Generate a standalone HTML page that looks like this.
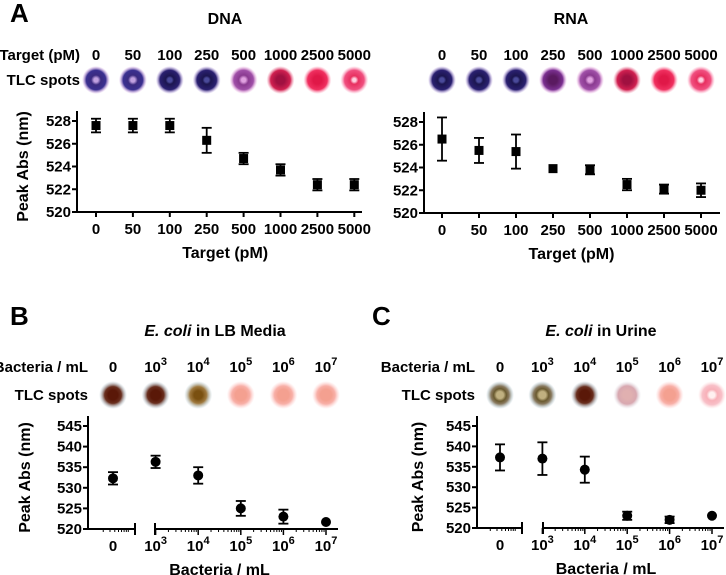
<!DOCTYPE html>
<html><head><meta charset="utf-8"><style>
body{margin:0;background:#fff}
svg{display:block;font-family:"Liberation Sans",Arial,sans-serif;font-weight:bold}
</style></head><body>
<svg id="fig" width="726" height="575" viewBox="0 0 726 575">
<defs>
<radialGradient id="gNavy"><stop offset="0.15" stop-color="#4a4a9a"/><stop offset="0.3" stop-color="#1c1650"/><stop offset="0.7" stop-color="#2a2070"/><stop offset="1" stop-color="#b090e0" stop-opacity="0"/></radialGradient>
<radialGradient id="gNavyL"><stop offset="0.15" stop-color="#c0a0e0"/><stop offset="0.35" stop-color="#3a2a80"/><stop offset="0.7" stop-color="#3a3090"/><stop offset="1" stop-color="#d090e0" stop-opacity="0"/></radialGradient>
<radialGradient id="gPurple"><stop offset="0.3" stop-color="#5a1a60"/><stop offset="0.7" stop-color="#7a3090"/><stop offset="1" stop-color="#e090e0" stop-opacity="0"/></radialGradient>
<radialGradient id="gMauve"><stop offset="0.15" stop-color="#e0a0e0"/><stop offset="0.35" stop-color="#8a3a90"/><stop offset="0.7" stop-color="#a050a8"/><stop offset="1" stop-color="#f0a0e0" stop-opacity="0"/></radialGradient>
<radialGradient id="gCrim"><stop offset="0.3" stop-color="#a01040"/><stop offset="0.7" stop-color="#d02050"/><stop offset="1" stop-color="#f080a0" stop-opacity="0"/></radialGradient>
<radialGradient id="gRed"><stop offset="0.3" stop-color="#e01848"/><stop offset="0.7" stop-color="#f03060"/><stop offset="1" stop-color="#ff90b0" stop-opacity="0"/></radialGradient>
<radialGradient id="gPinkW"><stop offset="0.12" stop-color="#ffd0e0"/><stop offset="0.3" stop-color="#e83060"/><stop offset="0.7" stop-color="#f05080"/><stop offset="1" stop-color="#ffa0c0" stop-opacity="0"/></radialGradient>
<radialGradient id="gBrown"><stop offset="0.35" stop-color="#5a1808"/><stop offset="0.6" stop-color="#6a3020"/><stop offset="1" stop-color="#a0c0d0" stop-opacity="0"/></radialGradient>
<radialGradient id="gOchre"><stop offset="0.3" stop-color="#7a5010"/><stop offset="0.6" stop-color="#a07a40"/><stop offset="1" stop-color="#a0c0d0" stop-opacity="0"/></radialGradient>
<radialGradient id="gOlive"><stop offset="0.25" stop-color="#c0b080"/><stop offset="0.45" stop-color="#6a5a30"/><stop offset="0.65" stop-color="#8a7a60"/><stop offset="1" stop-color="#a0c0d0" stop-opacity="0"/></radialGradient>
<radialGradient id="gSalmon"><stop offset="0.4" stop-color="#f4a090"/><stop offset="0.65" stop-color="#f8b0a8"/><stop offset="1" stop-color="#ffd0d0" stop-opacity="0"/></radialGradient>
<radialGradient id="gRose"><stop offset="0.3" stop-color="#e0b0b0"/><stop offset="0.65" stop-color="#d8a8b0"/><stop offset="1" stop-color="#e0e0e8" stop-opacity="0"/></radialGradient>
<radialGradient id="gPinkLt"><stop offset="0.2" stop-color="#fff0f0"/><stop offset="0.4" stop-color="#f8b0b8"/><stop offset="0.7" stop-color="#f8c0c8"/><stop offset="1" stop-color="#ffe0e0" stop-opacity="0"/></radialGradient>
</defs>
</svg>
<script>
// ---- data ----
const targetCats = ["0","50","100","250","500","1000","2500","5000"];
const dnaMean = [527.6,527.6,527.6,526.3,524.7,523.7,522.4,522.4];
const dnaErr  = [0.6,0.6,0.6,1.1,0.5,0.5,0.5,0.5];
const rnaMean = [526.5,525.5,525.4,523.9,523.8,522.5,522.1,522.0];
const rnaErr  = [1.9,1.1,1.5,0,0.4,0.5,0.4,0.6];
const targetTicks = [520,522,524,526,528];
const bactExp = ["", "3","4","5","6","7"];
const lbMean = [532.3,536.3,533.0,525.0,523.0,521.7];
const lbErr  = [1.5,1.5,2.0,1.8,1.7,0];
const urMean = [537.3,537.0,534.3,523.0,522.0,523.0];
const urErr  = [3.2,4.0,3.2,1.0,0.8,0];
const bactTicks = [520,525,530,535,540,545];
const dnaSpots = ["gNavyL","gNavyL","gNavy","gNavy","gMauve","gCrim","gRed","gPinkW"];
const rnaSpots = ["gNavy","gNavy","gNavy","gPurple","gMauve","gCrim","gRed","gPinkW"];
const lbSpots = ["gBrown","gBrown","gOchre","gSalmon","gSalmon","gSalmon"];
const urSpots = ["gOlive","gOlive","gBrown","gRose","gSalmon","gPinkLt"];

const NS="http://www.w3.org/2000/svg";
const svg=document.getElementById('fig');
function mk(tag,attrs,parent,text){const e=document.createElementNS(NS,tag);for(const k in attrs)e.setAttribute(k,attrs[k]);if(text!==undefined)e.textContent=text;(parent||svg).appendChild(e);return e;}

function panel(o){
  const g=mk('g',{});
  
  
  const y=v=>o.yTop+(o.yMax-v)/(o.yMax-o.yMin)*(o.yBot-o.yTop);
  const x=i=>o.x0+i*o.dx;
  const ya=mk('line',{x1:o.ax,x2:o.ax,y1:o.yTop-10,y2:o.yBot,stroke:'#000','stroke-width':2},g);
  
  
  o.segs.forEach(s=>{const l=mk('line',{x1:s[0],x2:s[1],y1:o.yBot,y2:o.yBot,stroke:'#000','stroke-width':2},g);
    
    });
  o.ticks.forEach(t=>{
    mk('line',{x1:o.ax-5,x2:o.ax,y1:y(t),y2:y(t),stroke:'#000','stroke-width':2},g);
    const tl=mk('text',{x:o.ax-6,y:y(t)+5,'text-anchor':'end','font-size':15},g,t);
    
    
  });
  if(o.log){
    mk('line',{x1:o.segs[0][1],x2:o.segs[0][1],y1:o.yBot-6,y2:o.yBot+6,stroke:'#000','stroke-width':2},g);
    mk('line',{x1:o.segs[1][0],x2:o.segs[1][0],y1:o.yBot-6,y2:o.yBot+6,stroke:'#000','stroke-width':2},g);
    for(let d=1;d<6;d++){
      mk('line',{x1:x(d),x2:x(d),y1:o.yBot,y2:o.yBot+6,stroke:'#000','stroke-width':1.5},g);
      if(d<5)for(let m=2;m<10;m++){const px=x(d)+Math.log10(m)*o.dx;mk('line',{x1:px,x2:px,y1:o.yBot,y2:o.yBot+3,stroke:'#000','stroke-width':1},g);}
    }
    for(let m=2;m<10;m++){const px=x(0)-o.dx*0.5+Math.log10(m)*o.dx*0.9;mk('line',{x1:px,x2:px,y1:o.yBot,y2:o.yBot+3,stroke:'#000','stroke-width':1},g);}
  } else {
    o.cats.forEach((c,i)=>mk('line',{x1:x(i),x2:x(i),y1:o.yBot,y2:o.yBot+5,stroke:'#000','stroke-width':2},g));
  }
  o.cats.forEach((c,i)=>{
    [o.yBot+22,o.rowY].forEach((yy,k)=>{
      const t=mk('text',{x:x(i),y:yy,'text-anchor':'middle','font-size':15},g);
      if(o.log&&c!==""){t.textContent="10";mk('tspan',{dy:-7,'font-size':11},t,c);}
      else t.textContent=o.log?"0":c;
      
      
    });
    const sp=mk('circle',{cx:x(i),cy:o.spotY,r:14,fill:'url(#'+o.spots[i]+')'},g);
    
    
  });
  o.mean.forEach((m,i)=>{
    const e=o.err[i];
    if(e>0){
      mk('line',{x1:x(i),x2:x(i),y1:y(m+e),y2:y(m-e),stroke:'#000','stroke-width':1.8},g);
      [m+e,m-e].forEach(v=>mk('line',{x1:x(i)-5,x2:x(i)+5,y1:y(v),y2:y(v),stroke:'#000','stroke-width':1.8},g));
    }
    let p;
    if(o.log)p=mk('circle',{cx:x(i),cy:y(m),r:5,fill:'#000'},g);
    else p=mk('rect',{x:x(i)-4.5,y:y(m)-4.5,width:9,height:9,fill:'#000'},g);
    
    
  });
  const tt=mk('text',{x:o.titleX,y:o.titleY,'text-anchor':'middle','font-size':16},g);
  if(o.italic){mk('tspan',{'font-style':'italic'},tt,'E. coli');mk('tspan',{},tt,o.title);}else tt.textContent=o.title;
  
  
  const xt=mk('text',{x:(o.x0+x(o.cats.length-1))/2,y:o.yBot+46,'text-anchor':'middle','font-size':16},g,o.xTitle);
  
  
  if(o.yTitleX){
    const cy=(o.yTop+o.yBot)/2;
    const yt=mk('text',{x:o.yTitleX,y:cy,'text-anchor':'middle','font-size':16,transform:`rotate(-90 ${o.yTitleX} ${cy})`},g,'Peak Abs (nm)');
    
    
  }
  if(o.rowLabel){
    const r1=mk('text',{x:o.rowLabelX,y:o.rowY,'text-anchor':'end','font-size':15},g,o.rowLabel);
    
    
    const r2=mk('text',{x:o.rowLabelX,y:o.spotY+5,'text-anchor':'end','font-size':15},g,'TLC spots');
    
    
  }
}
panel({name:'dna-panel',ax:77,x0:96,dx:36.9,yTop:121,yBot:212,yMin:520,yMax:528,ticks:targetTicks,cats:targetCats,mean:dnaMean,err:dnaErr,spots:dnaSpots,segs:[[77,362]],rowY:60,spotY:80,title:'DNA',titleX:225,titleY:24,xTitle:'Target (pM)',yTitleX:28,rowLabel:'Target (pM)',rowLabelX:80});
panel({name:'rna-panel',ax:424,x0:442,dx:37,yTop:122,yBot:213,yMin:520,yMax:528,ticks:targetTicks,cats:targetCats,mean:rnaMean,err:rnaErr,spots:rnaSpots,segs:[[424,720]],rowY:60,spotY:80,title:'RNA',titleX:571,titleY:24,xTitle:'Target (pM)'});
panel({name:'lb-panel',log:true,ax:88,x0:113,dx:42.6,yTop:426,yBot:529,yMin:520,yMax:545,ticks:bactTicks,cats:bactExp,mean:lbMean,err:lbErr,spots:lbSpots,segs:[[88,135],[155,338]],rowY:372,spotY:395,title:' in LB Media',italic:true,titleX:215,titleY:336,xTitle:'Bacteria / mL',yTitleX:30,rowLabel:'Bacteria / mL',rowLabelX:88});
panel({name:'urine-panel',log:true,ax:477,x0:500,dx:42.4,yTop:426,yBot:528,yMin:520,yMax:545,ticks:bactTicks,cats:bactExp,mean:urMean,err:urErr,spots:urSpots,segs:[[477,522],[543,724]],rowY:372,spotY:395,title:' in Urine',italic:true,titleX:601,titleY:336,xTitle:'Bacteria / mL',yTitleX:423,rowLabel:'Bacteria / mL',rowLabelX:475});
[['A',10,22],['B',10,325],['C',372,325]].forEach(p=>{const t=mk('text',{x:p[1],y:p[2],'font-size':26},svg,p[0]);
  
  });
</script>
</body></html>
